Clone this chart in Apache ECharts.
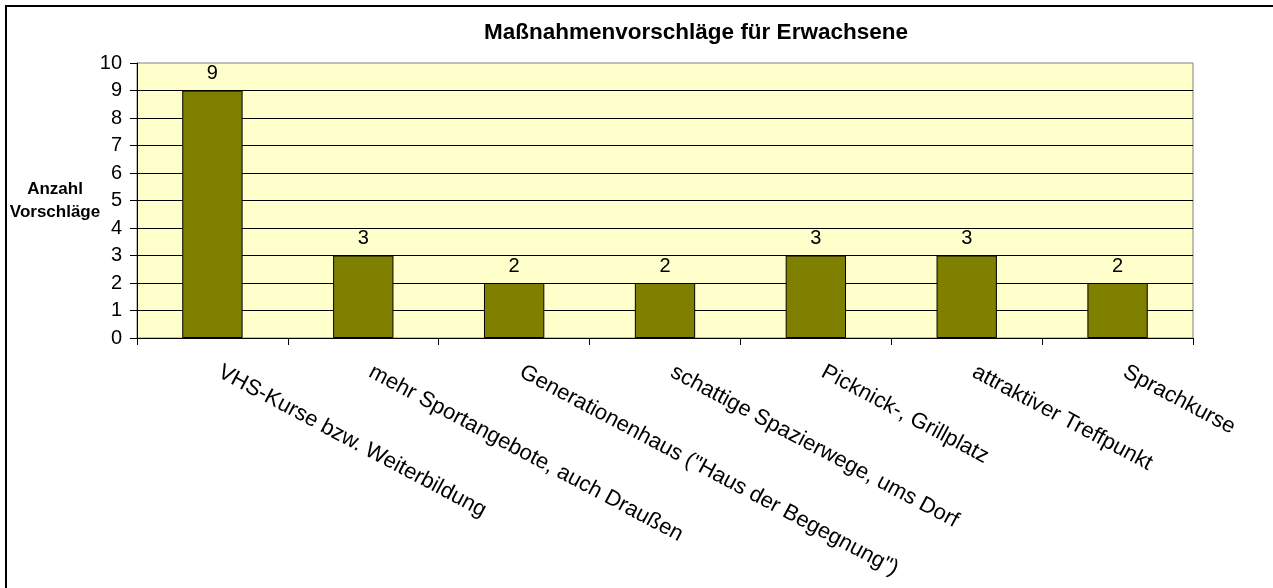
<!DOCTYPE html>
<html>
<head>
<meta charset="utf-8">
<title>Maßnahmenvorschläge für Erwachsene</title>
<script src="https://cdn.jsdelivr.net/npm/echarts@6/dist/echarts.min.js"></script>
<style>
  html, body { margin: 0; padding: 0; background: #fff; overflow: hidden; }
  #chart { width: 1273px; height: 588px; }
  .frame {
    position: absolute; left: 5px; top: 5px;
    width: 1400px; height: 700px;
    border: 2px solid #000; pointer-events: none;
  }
</style>
</head>
<body>
<div id="chart"></div>
<div class="frame"></div>
<script>
const categories = [
  'VHS-Kurse bzw. Weiterbildung',
  'mehr Sportangebote, auch Draußen',
  'Generationenhaus ("Haus der Begegnung")',
  'schattige Spazierwege, ums Dorf',
  'Picknick-, Grillplatz',
  'attraktiver Treffpunkt',
  'Sprachkurse'
]
const values = [9, 3, 2, 2, 3, 3, 2]
const yTicks = { min: 0, max: 10, interval: 1 }

const font = 'Liberation Sans, Arial, sans-serif'
const chart = echarts.init(document.getElementById('chart'))

chart.setOption({
  animation: false,
  textStyle: { fontFamily: font },
  title: {
    text: 'Maßnahmenvorschläge für Erwachsene',
    left: 691,
    top: 16,
    textAlign: 'center',
    textStyle: { fontFamily: font, fontSize: 22.5, fontWeight: 'bold', color: '#000' }
  },
  grid: {
    left: 137,
    right: 80,
    top: 63,
    bottom: 250,
    show: true,
    backgroundColor: '#FFFFCC',
    borderColor: '#808080',
    borderWidth: 1
  },
  xAxis: {
    type: 'category',
    data: categories,
    axisLine: { lineStyle: { color: '#000', width: 1 } },
    axisTick: { show: true, length: 7, lineStyle: { color: '#000' } },
    axisLabel: {
      interval: 0,
      rotate: -28,
      margin: 29,
      padding: [0, 0, 0, 8],
      color: '#000',
      fontSize: 22,
      fontFamily: font
    }
  },
  yAxis: {
    type: 'value',
    min: yTicks.min,
    max: yTicks.max,
    interval: yTicks.interval,
    name: 'Anzahl\nVorschläge',
    nameLocation: 'middle',
    nameRotate: 0,
    nameGap: 82,
    nameMoveOverlap: false,
    nameTextStyle: {
      align: 'center',
      verticalAlign: 'middle',
      fontFamily: font,
      fontSize: 17,
      fontWeight: 'bold',
      color: '#000',
      lineHeight: 23
    },
    axisLine: { show: true, lineStyle: { color: '#000', width: 1 } },
    axisTick: { show: true, length: 7, lineStyle: { color: '#000' } },
    axisLabel: { color: '#000', fontSize: 20, margin: 15, fontFamily: font },
    splitLine: { show: true, showMaxLine: false, lineStyle: { color: '#000', width: 1 } }
  },
  series: [{
    type: 'bar',
    data: values,
    barWidth: '40%',
    itemStyle: { color: '#808000', borderColor: '#000', borderWidth: 1 },
    label: {
      show: true,
      position: 'top',
      distance: 7,
      color: '#000',
      fontSize: 20,
      fontFamily: font
    }
  }]
})
</script>
</body>
</html>
